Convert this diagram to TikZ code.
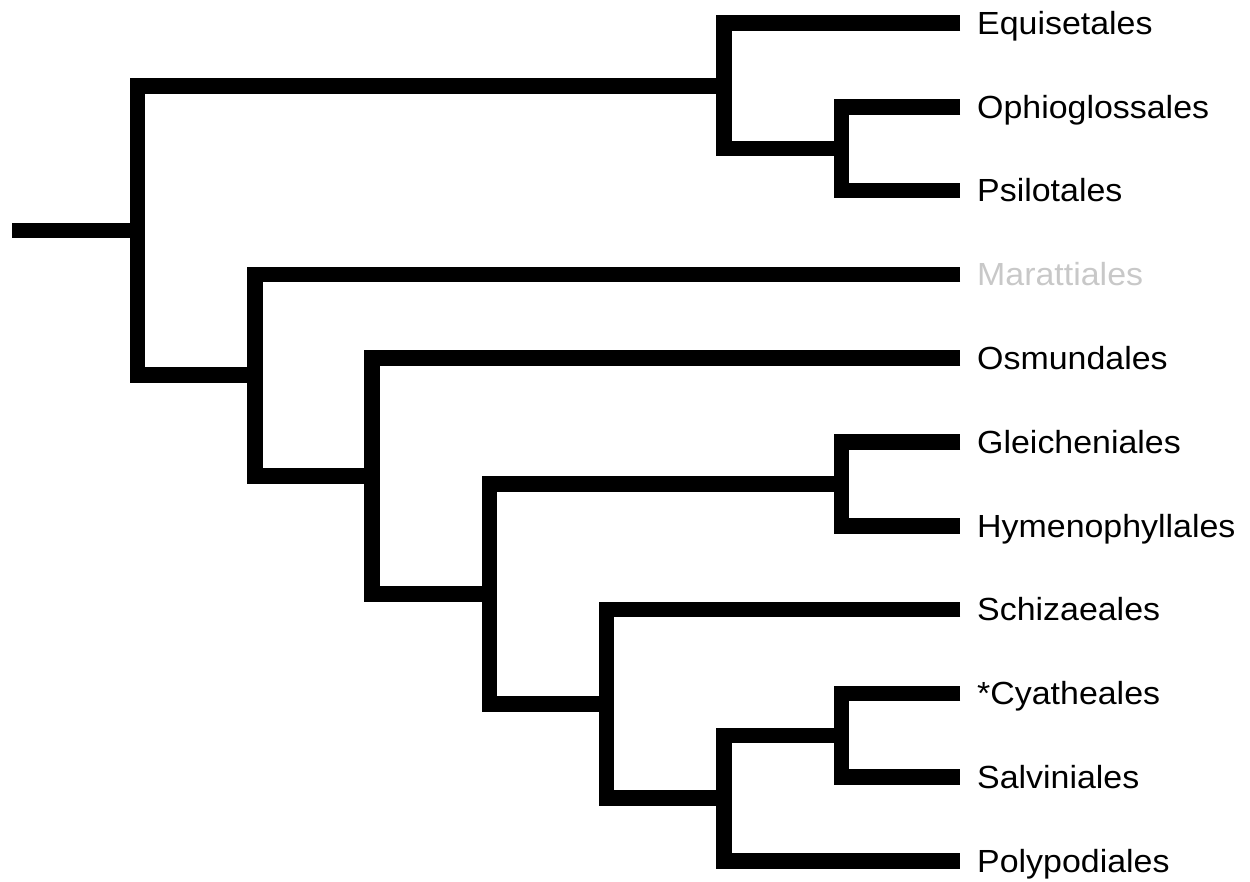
\documentclass[tikz,border=0pt]{standalone}
\usepackage{fontspec}
\newfontfamily\labfont[FakeStretch=1.06]{Liberation Sans}
\definecolor{fadedgrey}{RGB}{200,200,200}
\begin{document}
\begin{tikzpicture}[x=1pt,y=-1pt,
  branch/.style={line width=15.5pt, line cap=butt, line join=miter, black},
  leaf/.style={anchor=west, inner xsep=17pt, inner ysep=0pt, text height=22.5pt, text depth=0pt,
    font=\labfont\fontsize{32}{36}\selectfont}]
\useasboundingbox (0,0) rectangle (1250,882);
% leaves
\node[leaf] (equi) at (960,23) {Equisetales};
\node[leaf] (ophio) at (960,106.8) {Ophioglossales};
\node[leaf] (psilo) at (960,190.6) {Psilotales};
\node[leaf, text=fadedgrey] (maratt) at (960,274.4) {Marattiales};
\node[leaf] (osmund) at (960,358.2) {Osmundales};
\node[leaf] (gleich) at (960,442) {Gleicheniales};
\node[leaf] (hymeno) at (960,525.8) {Hymenophyllales};
\node[leaf] (schiz) at (960,609.6) {Schizaeales};
\node[leaf] (cyath) at (960,693.4) {*Cyatheales};
\node[leaf] (salv) at (960,777.2) {Salviniales};
\node[leaf] (polyp) at (960,861) {Polypodiales};
% internal nodes
\coordinate (op) at (841.3,148.7);
\coordinate (eop) at (724,85.85);
\coordinate (gh) at (841.3,483.9);
\coordinate (cs) at (841.3,735.3);
\coordinate (csp) at (724,798.15);
\coordinate (scsp) at (606.7,703.9);
\coordinate (ghs) at (489.4,593.9);
\coordinate (ogh) at (372.1,476.05);
\coordinate (mo) at (254.8,375.2);
\coordinate (root) at (137.5,230.5);
\coordinate (stub) at (12,230.5);
% branches
\draw[branch] (ophio.west) -| (op) |- (psilo.west);
\draw[branch] (equi.west) -| (eop) |- (op);
\draw[branch] (gleich.west) -| (gh) |- (hymeno.west);
\draw[branch] (cyath.west) -| (cs) |- (salv.west);
\draw[branch] (cs) -| (csp) |- (polyp.west);
\draw[branch] (schiz.west) -| (scsp) |- (csp);
\draw[branch] (gh) -| (ghs) |- (scsp);
\draw[branch] (osmund.west) -| (ogh) |- (ghs);
\draw[branch] (maratt.west) -| (mo) |- (ogh);
\draw[branch] (eop) -| (root) |- (mo);
\draw[branch] (stub) -- (root);
\end{tikzpicture}
\end{document}
